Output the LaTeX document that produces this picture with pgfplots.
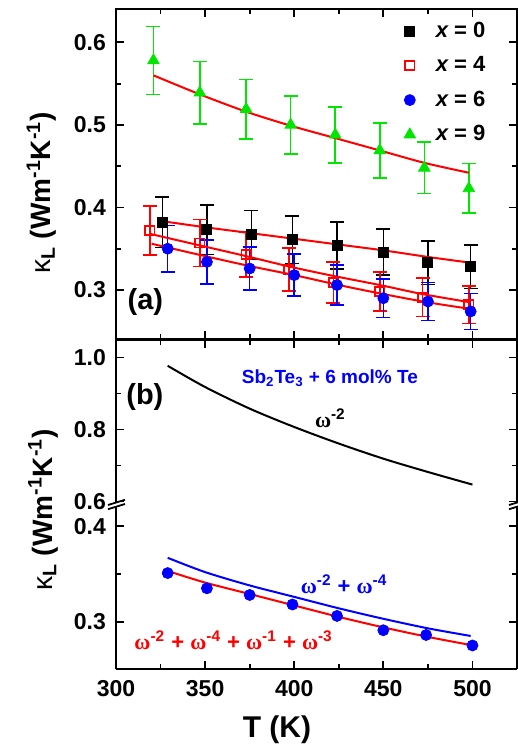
\documentclass[border=0pt]{standalone}
\usepackage{fontspec}
\setmainfont{Liberation Sans}
\newfontfamily\omfont{Liberation Serif}
\usepackage{pgfplots}
\pgfplotsset{compat=1.18}
\definecolor{kred}{HTML}{FF0000}
\definecolor{kblue}{HTML}{0000FF}
\definecolor{kgreen}{HTML}{00E600}
\newcommand{\om}{{\omfont ω}}
\begin{document}
\begin{tikzpicture}
\path[use as bounding box] (0,0) rectangle (259pt,373pt);
\pgfplotsset{
  kbase/.style={
    scale only axis, width=200.5pt,
    xmin=300, xmax=525,
    xtick={300,350,...,500}, minor x tick num=1,
    tick align=inside,
    major tick length=4pt, minor tick length=2.5pt,
    tick style={line width=0.9pt, black},
    axis line style={line width=1pt},
    tick label style={font=\fontsize{11.5}{13}\selectfont\bfseries},
    /pgf/number format/assume math mode=true,
    yticklabel style={/pgf/number format/fixed, /pgf/number format/fixed zerofill,
      /pgf/number format/precision=1, xshift=-1.5pt},
    clip=false,
  },
  ebar/.style={error bars/.cd, y dir=both, y explicit,
    error bar style={line width=0.8pt},
    error mark options={rotate=90, mark size=3.5pt, line width=0.8pt}},
  fit/.style={kred, line width=1pt, smooth, forget plot},
}
% ---------- panel (a)
\begin{axis}[kbase, at={(58pt,203.25pt)}, anchor=south west, height=165.1pt,
  ymin=0.24, ymax=0.64, ytick={0.3,0.4,0.5,0.6}, minor y tick num=1,
  xticklabels={},
  legend style={at={(0.947,0.987)}, anchor=north east, draw=none, fill=none,
    font=\fontsize{11}{12.5}\selectfont\bfseries, row sep=4.1pt},
  legend cell align=left,
  legend image code/.code={\path[draw=none, fill=none] (-4pt,0pt) rectangle (11pt,0pt);
    \draw[mark repeat=2,mark phase=2,#1] plot coordinates {(0pt,0pt) (0pt,0pt) (0pt,0pt)};},
]
\addplot[only marks, mark=square*, mark size=2.5pt, black, ebar] coordinates {
 (326,0.382) +- (0,0.0306) (351,0.373) +- (0,0.0298) (376,0.367) +- (0,0.0294)
 (399,0.361) +- (0,0.0289) (424,0.354) +- (0,0.0283) (450,0.346) +- (0,0.0277)
 (475,0.333) +- (0,0.0266) (499,0.328) +- (0,0.0262)};
\addlegendentry{\itshape x\upshape{} = 0}
\addplot[only marks, mark=square, mark size=2.3pt, kred, mark options={fill=white, line width=0.8pt}, ebar] coordinates {
 (319,0.372) +- (0,0.0298) (347,0.357) +- (0,0.0286) (373,0.343) +- (0,0.0274)
 (397,0.325) +- (0,0.0260) (422,0.309) +- (0,0.0247) (448,0.298) +- (0,0.0238)
 (472,0.291) +- (0,0.0232) (498,0.282) +- (0,0.0226)};
\addlegendentry{\itshape x\upshape{} = 4}
\addplot[only marks, mark=*, mark size=2.75pt, kblue, ebar] coordinates {
 (329,0.350) +- (0,0.0280) (351,0.334) +- (0,0.0267) (375,0.326) +- (0,0.0260)
 (400,0.318) +- (0,0.0254) (424,0.306) +- (0,0.0245) (450,0.290) +- (0,0.0232)
 (475,0.286) +- (0,0.0229) (499,0.274) +- (0,0.0219)};
\addlegendentry{\itshape x\upshape{} = 6}
\addplot[only marks, mark=triangle*, mark size=3.3pt, kgreen, ebar] coordinates {
 (321,0.578) +- (0,0.041) (347,0.539) +- (0,0.038) (373,0.519) +- (0,0.036)
 (398,0.500) +- (0,0.035) (423,0.488) +- (0,0.034) (448,0.469) +- (0,0.033)
 (473,0.448) +- (0,0.031) (498,0.423) +- (0,0.030)};
\addlegendentry{\itshape x\upshape{} = 9}
\addplot[fit] coordinates {(327,0.383) (350,0.376) (375,0.369) (400,0.362) (425,0.355) (450,0.348) (475,0.340) (499,0.333)};
\addplot[fit] coordinates {(319,0.368) (347,0.354) (373,0.341) (398,0.328) (422,0.317) (448,0.306) (472,0.295) (499,0.285)};
\addplot[fit] coordinates {(320,0.356) (350,0.341) (375,0.329) (400,0.318) (425,0.306) (450,0.295) (475,0.285) (499,0.277)};
\addplot[fit] coordinates {(321,0.560) (347,0.537) (373,0.516) (398,0.499) (423,0.484) (448,0.469) (473,0.454) (498,0.442)};
\node[font=\fontsize{14.5}{16}\selectfont\bfseries] at (axis cs:316.5,0.285) {(a)};
\end{axis}
% ---------- panel (b), upper segment
\begin{axis}[kbase, at={(58pt,122.25pt)}, anchor=south west, height=81pt,
  axis x line*=top, axis y line*=box,
  ymin=0.6, ymax=1.05, ytick={0.6,0.8,1.0}, minor ytick={0.7,0.9},
  xticklabels={},
]
\addplot[black, line width=1pt, smooth] coordinates {(329,0.977) (350,0.918) (375,0.858) (400,0.807) (425,0.761) (450,0.719) (475,0.682) (500,0.647)};
\node[font=\fontsize{14.5}{16}\selectfont\bfseries] at (axis cs:316.2,0.89) {(b)};
\node[font=\fontsize{9.5}{11}\selectfont\bfseries, text=kblue] at (axis cs:420,0.9425) {Sb\textsubscript{2}Te\textsubscript{3} + 6 mol\% Te};
\node[font=\fontsize{11}{12}\selectfont\bfseries] at (axis cs:420.3,0.831) {\om\textsuperscript{-2}};
\end{axis}
% ---------- panel (b), lower segment
\begin{axis}[kbase, at={(58pt,38.35pt)}, anchor=south west, height=81pt,
  axis x line*=bottom, axis y line*=box,
  ymin=0.25, ymax=0.42, ytick={0.3,0.4}, minor ytick={0.35},
  xticklabel style={yshift=-2pt},
]
\addplot[kblue, line width=1pt, smooth] coordinates {(329,0.367) (350,0.352) (375,0.338) (400,0.326) (425,0.314) (450,0.303) (475,0.293) (499,0.285)};
\addplot[kred, line width=1pt, smooth] coordinates {(331,0.352) (350,0.341) (375,0.329) (400,0.317) (425,0.305) (450,0.294) (475,0.284) (499,0.2755)};
\addplot[only marks, mark=*, mark size=2.75pt, kblue] coordinates {
 (329,0.351) (351,0.335) (375,0.328) (399,0.318) (424,0.306) (450,0.291) (474,0.286) (500,0.275)};
\node[font=\fontsize{11}{12}\selectfont\bfseries, text=kblue] at (axis cs:428,0.339) {\om\textsuperscript{-2} + \om\textsuperscript{-4}};
\node[font=\fontsize{11}{12}\selectfont\bfseries, text=kred] at (axis cs:366,0.281) {\om\textsuperscript{-2} + \om\textsuperscript{-4} + \om\textsuperscript{-1} + \om\textsuperscript{-3}};
\end{axis}
% axis break marks
\foreach \bx in {58pt,258.5pt}{
  \draw[line width=0.9pt] ([xshift=-4pt]\bx,120.5pt) -- ++(8.5pt,2.6pt);
  \draw[line width=0.9pt] ([xshift=-4pt]\bx,118.4pt) -- ++(8.5pt,2.6pt);
}
% axis titles
\node[rotate=90, font=\fontsize{14}{16}\selectfont\bfseries] at (20.8pt,276.5pt) {{\mdseries κ}\textsubscript{L} (Wm\textsuperscript{-1}K\textsuperscript{-1})};
\node[rotate=90, font=\fontsize{14}{16}\selectfont\bfseries] at (21.5pt,118pt) {{\mdseries κ}\textsubscript{L} (Wm\textsuperscript{-1}K\textsuperscript{-1})};
\node[font=\fontsize{15}{17}\selectfont\bfseries] at (138.5pt,8pt) {T (K)};
\end{tikzpicture}
\end{document}
